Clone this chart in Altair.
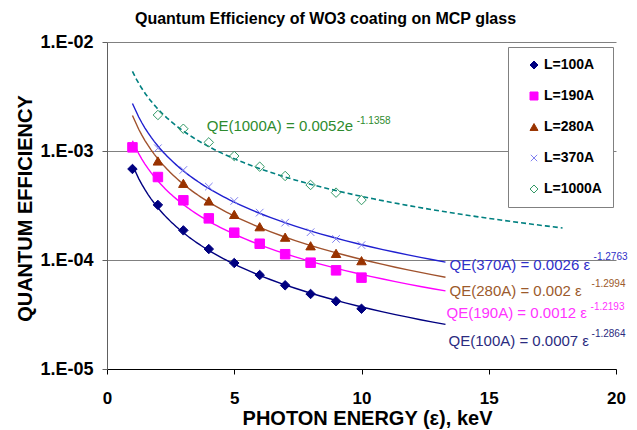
import altair as alt
import pandas as pd

# ---------------- data ----------------
series = ["L=100A", "L=190A", "L=280A", "L=370A", "L=1000A"]

energy_a = [1, 2, 3, 4, 5, 6, 7, 8, 9, 10]
energy_b = [2, 3, 4, 5, 6, 7, 8, 9, 10]

qe_100 = [6.84e-4, 3.20e-4, 1.87e-4, 1.26e-4, 9.38e-5, 7.28e-5, 5.86e-5, 4.88e-5, 4.18e-5, 3.57e-5]
qe_190 = [1.08e-3, 5.77e-4, 3.53e-4, 2.41e-4, 1.78e-4, 1.41e-4, 1.13e-4, 9.45e-5, 8.04e-5, 6.89e-5]
qe_280 = [8.10e-4, 5.05e-4, 3.48e-4, 2.62e-4, 2.02e-4, 1.62e-4, 1.35e-4, 1.15e-4, 9.86e-5]
qe_370 = [1.06e-3, 6.70e-4, 4.71e-4, 3.48e-4, 2.72e-4, 2.20e-4, 1.80e-4, 1.56e-4, 1.37e-4]
qe_1000 = [2.14e-3, 1.60e-3, 1.20e-3, 9.00e-4, 7.18e-4, 5.90e-4, 4.88e-4, 4.15e-4, 3.55e-4]

fit_labels = ["QE(1000A) = 0.0052e", "QE(370A) = 0.0026 ε", "QE(280A) = 0.002 ε",
              "QE(190A) = 0.0012 ε", "QE(100A) = 0.0007 ε"]
fit_powers = ["-1.1358", "-1.2763", "-1.2994", "-1.2193", "-1.2864"]

y_ticks = [1e-5, 1e-4, 1e-3, 1e-2]
x_ticks = [0, 5, 10, 15, 20]

# ---------------- styling ----------------
FONT = "Liberation Sans, Arial, sans-serif"
marker_shapes = ["diamond", "square", "triangle-up",
                 "M-0.8,-0.8L0.8,0.8M-0.8,0.8L0.8,-0.8", "diamond"]
marker_fill = ["#000080", "#FF00FF", "#993300", "transparent", "transparent"]
marker_stroke = ["#000080", "#FF00FF", "#993300", "#8080F0", "#339966"]
line_colors = ["#000080", "#FF00FF", "#A0522D", "#2020D0", "#008080"]
label_colors = ["#2E8B2E", "#2F2FC8", "#9C5A2C", "#FF33FF", "#2B2B80"]

# annotation anchors (data coordinates)
lab_x = [3.92, 13.46, 13.46, 13.34, 13.42]
lab_y = [1.526e-3, 8.1e-5, 4.68e-5, 2.94e-5, 1.63e-5]
sup_x = [9.81, 19.12, 19.04, 19.0, 19.04]
sup_y = [1.77e-3, 1.0e-4, 5.65e-5, 3.48e-5, 1.97e-5]

# ---------------- tables ----------------
rows = []
for s, xs, ys in zip(series,
                     [energy_a, energy_a, energy_b, energy_b, energy_b],
                     [qe_100, qe_190, qe_280, qe_370, qe_1000]):
    for e, q in zip(xs, ys):
        rows.append({"series": s, "energy": e, "qe": q})
pts = pd.DataFrame(rows)

ann = pd.DataFrame({"energy": lab_x, "qe": lab_y, "text": fit_labels, "color": label_colors})
sup = pd.DataFrame({"energy": sup_x, "qe": sup_y, "text": fit_powers, "color": label_colors})

xscale = alt.Scale(domain=[0, 20], nice=False, zero=False)
yscale = alt.Scale(type="log", domain=[1e-5, 1e-2], nice=False)

x_axis = alt.Axis(values=x_ticks, grid=False, domainColor="black", tickColor="black",
                  tickSize=5, labelFont=FONT, labelFontSize=17, labelFontWeight="bold",
                  labelColor="black", labelPadding=16, labelFlush=False,
                  title="PHOTON ENERGY (ε), keV", titleFont=FONT, titleFontSize=20,
                  titleFontWeight="bold", titleColor="black", titleX=260, titleY=39,
                  titleBaseline="top", titleAlign="center")
y_axis = alt.Axis(values=y_ticks, grid=True, gridColor="#808080", gridWidth=1,
                  domainColor="#606060", tickColor="#606060", tickSize=5,
                  labelExpr="'1.E-0' + (-round(log(datum.value)/LN10))",
                  labelFont=FONT, labelFontSize=18, labelFontWeight="bold",
                  labelColor="black", labelPadding=9, labelOverlap=False,
                  title="QUANTUM EFFICIENCY", titleFont=FONT, titleFontSize=20,
                  titleFontWeight="bold", titleColor="black", titleX=-82, titleY=166,
                  titleAlign="center", titleBaseline="middle", titleAngle=270)

X = alt.X("energy:Q", scale=xscale, axis=x_axis)
Y = alt.Y("qe:Q", scale=yscale, axis=y_axis)

layers = []
extents = [[1, 13.3], [1, 13.3], [1, 13.3], [1, 13.3], [1, 17.9]]
for s, col, ext in zip(series, line_colors, extents):
    mk = dict(color=col, strokeWidth=1.4)
    if s == "L=1000A":
        mk["strokeDash"] = [5, 3]
        mk["strokeWidth"] = 1.6
    layers.append(
        alt.Chart(pts).transform_filter(alt.datum.series == s)
        .transform_regression("energy", "qe", method="pow", extent=ext)
        .mark_line(**mk).encode(x=X, y=Y)
    )

leg = alt.Legend(title=None, orient="none", legendX=401, legendY=5,
                 fillColor="white", strokeColor="#808080", padding=11, rowPadding=17,
                 labelFont=FONT, labelFontSize=14, labelFontWeight="bold",
                 labelColor="black", symbolSize=64, symbolOffset=8, labelOffset=3,
                 symbolStrokeWidth=1)
points = alt.Chart(pts).mark_point(strokeWidth=1, opacity=1, size=90).encode(
    x=X, y=Y,
    shape=alt.Shape("series:N", scale=alt.Scale(domain=series, range=marker_shapes), legend=leg),
    fill=alt.Fill("series:N", scale=alt.Scale(domain=series, range=marker_fill), legend=leg),
    stroke=alt.Stroke("series:N", scale=alt.Scale(domain=series, range=marker_stroke), legend=leg),
)

labels = alt.Chart(ann).mark_text(align="left", baseline="alphabetic", font=FONT,
                                  fontSize=15).encode(
    x=X, y=Y, text="text:N", color=alt.Color("color:N", scale=None))
supers = alt.Chart(sup).mark_text(align="left", baseline="alphabetic", font=FONT,
                                  fontSize=10).encode(
    x=X, y=Y, text="text:N", color=alt.Color("color:N", scale=None))

chart = alt.layer(*layers, points, labels, supers).properties(
    width=509, height=327,
    background="white",
    autosize=alt.AutoSizeParams(type="none"),
    padding={"left": 107, "top": 42, "right": 21, "bottom": 61},
    title=alt.TitleParams("Quantum Efficiency of WO3 coating on MCP glass", font=FONT,
                          fontSize=16, fontWeight="bold", color="black", anchor="middle",
                          dx=-36, dy=18, offset=11, baseline="alphabetic"),
).configure_view(stroke=None)

chart.save("out.html", embed_options={"renderer": "svg", "actions": False})
